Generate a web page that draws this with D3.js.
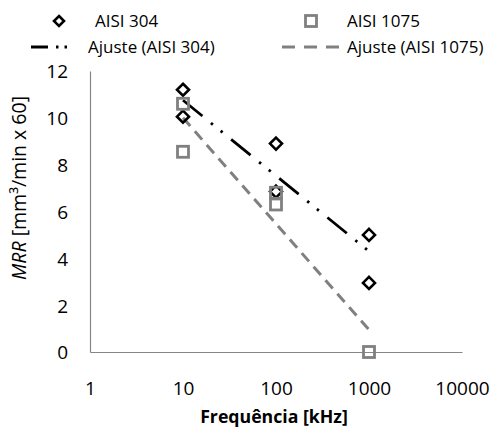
<!DOCTYPE html>
<html><head><meta charset="utf-8">
<script src="https://cdn.jsdelivr.net/npm/d3@7"></script>
<style>body{margin:0;background:#fff}svg{display:block}text{font-family:"Open Sans",sans-serif}</style>
</head><body><svg id="c" width="493" height="432"></svg>
<script>
const freq304 = [10, 10, 100, 100, 1000, 1000];
const mrr304 = [11.2, 10.05, 8.9, 6.85, 5.0, 2.95];
const freq1075 = [10, 10, 100, 100, 1000];
const mrr1075 = [10.6, 8.55, 6.8, 6.3, 0];
const fitFreq = [10, 1000];
const fit304 = [10.75, 4.3];
const fit1075 = [10.0, 0.95];
const xTicks = [1, 10, 100, 1000, 10000];
const yTicks = [0, 2, 4, 6, 8, 10, 12];

const svg = d3.select("#c");
const x = d3.scaleLog().domain([1, 10000]).range([90, 462]);
const y = d3.scaleLinear().domain([0, 12]).range([352, 71]);
const black = "#000", gray = "#808080", axisCol = "#868686";
const fs = 17, tfs = 19;

// axes
const xAxis = d3.axisBottom(x).tickValues(xTicks).tickSize(0).tickPadding(0).tickFormat(d3.format("d"));
const gx = svg.append("g").attr("transform", "translate(0,352)").call(xAxis);
gx.select(".domain").attr("stroke", axisCol).attr("stroke-width", 1.2);
gx.selectAll("text").attr("dy", null).attr("y", 43).style("font-size", tfs + "px").attr("fill", "#000").attr("font-family", "Open Sans");

const yAxis = d3.axisLeft(y).tickValues(yTicks).tickSize(0).tickPadding(0);
const gy = svg.append("g").attr("transform", "translate(90,0)").call(yAxis);
gy.select(".domain").attr("stroke", axisCol).attr("stroke-width", 1.2);
gy.selectAll("text").attr("x", -22).attr("dy", "0.36em").style("font-size", tfs + "px").attr("fill", "#000").attr("font-family", "Open Sans");

// fit lines
const line = d3.line().x(d => x(d[0])).y(d => y(d[1]));
svg.append("path").datum(fitFreq.map((f, i) => [f, fit1075[i]]))
  .attr("d", line).attr("fill", "none").attr("stroke", gray).attr("stroke-width", 3)
  .attr("stroke-dasharray", "11,7");
svg.append("path").datum(fitFreq.map((f, i) => [f, fit304[i]]))
  .attr("d", line).attr("fill", "none").attr("stroke", black).attr("stroke-width", 2.8)
  .attr("stroke-dasharray", "25,11,2.5,10,2.5,11");

// markers
const diamond = (cx, cy, r) => `M${cx},${cy - r}L${cx + r},${cy}L${cx},${cy + r}L${cx - r},${cy}Z`;
svg.append("g").selectAll("path").data(freq304.map((f, i) => [f, mrr304[i]])).join("path")
  .attr("d", d => diamond(x(d[0]), y(d[1]), 6))
  .attr("fill", "none").attr("stroke", black).attr("stroke-width", 2.6);
svg.append("g").selectAll("rect").data(freq1075.map((f, i) => [f, mrr1075[i]])).join("rect")
  .attr("x", d => x(d[0]) - 5.5).attr("y", d => y(d[1]) - 5.5).attr("width", 11).attr("height", 11)
  .attr("fill", "none").attr("stroke", gray).attr("stroke-width", 2.8);

// legend
const lg = svg.append("g");
lg.append("path").attr("d", diamond(59, 21, 5)).attr("fill", "none").attr("stroke", black).attr("stroke-width", 2.6);
lg.append("text").attr("x", 95).attr("y", 21).attr("dy", "0.36em").style("font-size", fs + "px").text("AISI 304");
lg.append("line").attr("x1", 31).attr("x2", 72).attr("y1", 47).attr("y2", 47).attr("stroke", black).attr("stroke-width", 2.8)
  .attr("stroke-dasharray", "17,8,2.5,6,2.5,40");
lg.append("text").attr("x", 88).attr("y", 47).attr("dy", "0.36em").style("font-size", fs + "px").text("Ajuste (AISI 304)");
lg.append("rect").attr("x", 305.5).attr("y", 15.5).attr("width", 11).attr("height", 11).attr("fill", "none").attr("stroke", gray).attr("stroke-width", 2.8);
lg.append("text").attr("x", 347).attr("y", 21).attr("dy", "0.36em").style("font-size", fs + "px").text("AISI 1075");
lg.append("line").attr("x1", 282).attr("x2", 339).attr("y1", 47).attr("y2", 47).attr("stroke", gray).attr("stroke-width", 3)
  .attr("stroke-dasharray", "13,9");
lg.append("text").attr("x", 347).attr("y", 47).attr("dy", "0.36em").style("font-size", fs + "px").text("Ajuste (AISI 1075)");

// axis titles
svg.append("text").attr("x", 274).attr("y", 423).attr("text-anchor", "middle")
  .style("font-size", "17.7px").attr("font-weight", "bold").text("Frequência [kHz]");
const yt = svg.append("text").attr("transform", "translate(26,188) rotate(-90)").attr("text-anchor", "middle").style("font-size", "19.5px");
yt.append("tspan").attr("font-style", "italic").text("MRR");
yt.append("tspan").text(" [mm³/min x 60]");
</script></body></html>
